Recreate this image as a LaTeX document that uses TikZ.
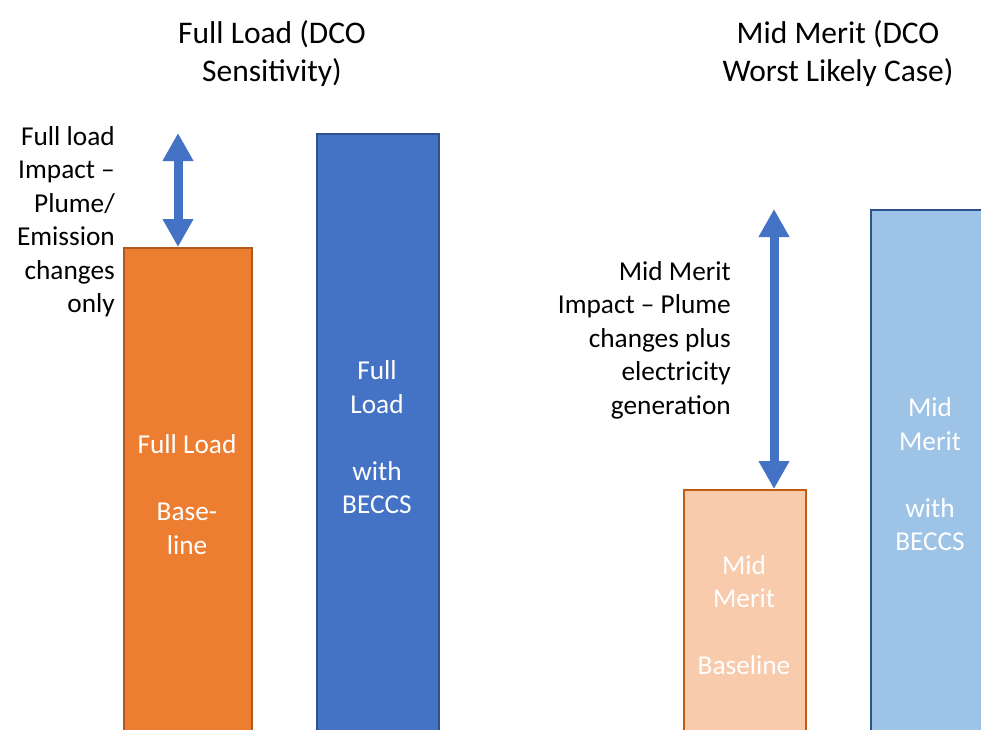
\documentclass[tikz,border=0pt]{standalone}
\usepackage{fontspec}
\setmainfont{Carlito}
\usetikzlibrary{arrows.meta}
\definecolor{orangeF}{HTML}{ED7D31}
\definecolor{orangeD}{HTML}{AE5A21}
\definecolor{blueF}{HTML}{4472C4}
\definecolor{blueD}{HTML}{2F528F}
\definecolor{lorangeF}{HTML}{F8CBAD}
\definecolor{lorangeD}{HTML}{C55A11}
\definecolor{lblueF}{HTML}{9DC3E6}
\tikzset{
  bar/.style={rectangle, anchor=north west, line width=1.5pt, inner sep=0pt, minimum height=600pt},
  lbl/.style={align=right, anchor=east, inner sep=0pt, font=\fontsize{27.3}{33.5}\selectfont},
  ttl/.style={align=center, inner sep=0pt, font=\fontsize{31.5}{38}\selectfont},
  bartxt/.style={align=center, inner sep=0pt, text=white, font=\fontsize{27.3}{33.5}\selectfont},
  dbl/.style={draw=blueF, line width=9pt, {Triangle[width=29pt,length=28pt]}-{Triangle[width=29pt,length=28pt]}}
}
\begin{document}
\begin{tikzpicture}[x=1pt,y=-1pt]
\useasboundingbox (0,0) rectangle (981,729);
\clip (0,0) rectangle (981,729);
\fill[white] (0,0) rectangle (981,729);
% bars
\node[bar, fill=orangeF, draw=orangeD, minimum width=128pt] (obar) at (123,247) {};
\node[bar, fill=blueF, draw=blueD, minimum width=122pt] (bbar) at (316,133) {};
\node[bar, fill=lorangeF, draw=lorangeD, minimum width=122pt] (lobar) at (683,489) {};
\node[bar, fill=lblueF, draw=blueD, minimum width=122pt] (lbbar) at (870,209) {};
% titles
\node[ttl] (t1) at (272,54) {Full Load (DCO\\Sensitivity)};
\node[ttl] (t2) at (838,54) {Mid Merit (DCO\\Worst Likely Case)};
% labels
\node[lbl] (l1) at (115,221.5) {Full load\\Impact –\\Plume/\\Emission\\changes\\only};
\node[lbl] (l2) at (731,340) {Mid Merit\\Impact – Plume\\changes plus\\electricity\\generation};
% bar texts
\node[bartxt] (ot) at (187,494.5) {Full Load\\[33.5pt]Base-\\line};
\node[bartxt] (bt) at (377,437.5) {Full\\Load\\[33.5pt]with\\BECCS};
\node[bartxt] (lot) at (744,615) {Mid\\Merit\\[33.5pt]Baseline};
\node[bartxt] (lbt) at (930,474.5) {Mid\\Merit\\[33.5pt]with\\BECCS};
% arrows
\coordinate (a1) at (178,133);
\coordinate (a2) at (774,209);
\draw[dbl] (a1) -- (a1 |- obar.north);
\draw[dbl] (a2) -- (a2 |- lobar.north);
\end{tikzpicture}
\end{document}
